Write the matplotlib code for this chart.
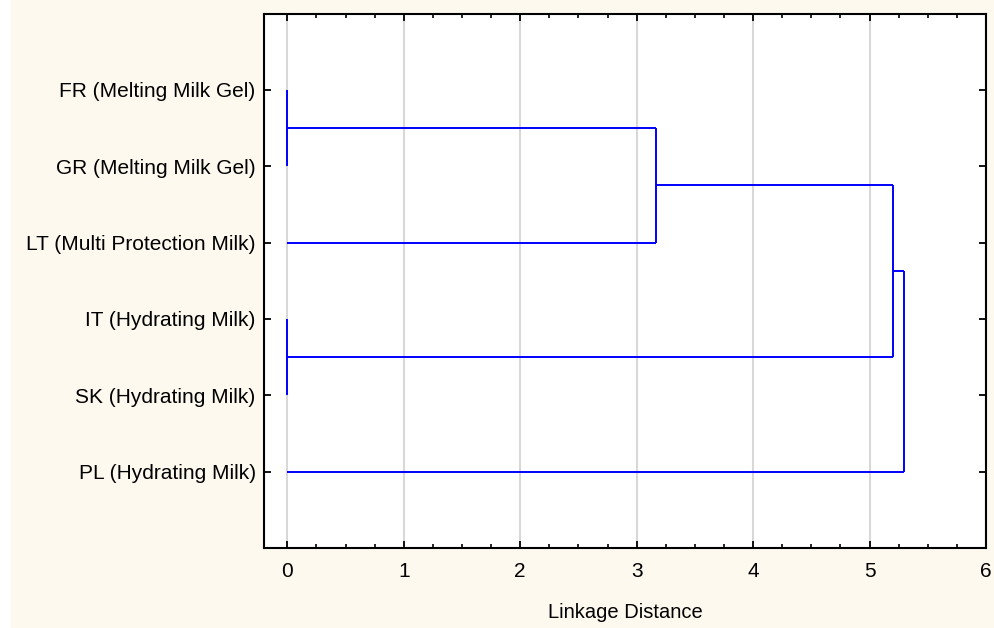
import matplotlib
matplotlib.use("Agg")
import matplotlib.pyplot as plt
from matplotlib.patches import Rectangle
from matplotlib.ticker import MultipleLocator

# Leaves listed top to bottom
labels = ["FR (Melting Milk Gel)", "GR (Melting Milk Gel)", "LT (Multi Protection Milk)",
          "IT (Hydrating Milk)", "SK (Hydrating Milk)", "PL (Hydrating Milk)"]
# merges: (left node, right node, linkage distance); nodes 0..5 leaves, 6.. clusters
merge_a = [0, 3, 6, 8, 9]
merge_b = [1, 4, 2, 7, 5]
merge_dist = [0.0, 0.0, 3.17, 5.2, 5.3]
xticks = [0, 1, 2, 3, 4, 5, 6]

W, H = 995, 628
fig = plt.figure(figsize=(W / 100, H / 100), dpi=100)
fig.patch.set_facecolor("white")
fig.add_artist(Rectangle((11 / W, 0), 1 - 11 / W, 1, transform=fig.transFigure,
                         facecolor="#fef9ee", edgecolor="none", zorder=-10))

ax = fig.add_axes([264 / W, 1 - 548 / H, (986 - 264) / W, (548 - 13.5) / H])
ax.set_facecolor("white")

n = len(labels)
ypos = {i: n - i for i in range(n)}
xpos = {i: 0.0 for i in range(n)}
col = (0, 0, 1)
lw = 1.4
for k, (a, b, d) in enumerate(zip(merge_a, merge_b, merge_dist)):
    node = n + k
    for c in (a, b):
        ax.plot([xpos[c], d], [ypos[c], ypos[c]], color=col, lw=lw, solid_capstyle="butt", zorder=3)
    ax.plot([d, d], [ypos[a], ypos[b]], color=col, lw=lw, solid_capstyle="butt", zorder=3)
    ypos[node] = (ypos[a] + ypos[b]) / 2
    xpos[node] = d

ax.set_xlim(-0.2, 6)
ax.set_ylim(0, n + 1)
ax.set_xticks(xticks)
ax.set_xticklabels([str(v) for v in xticks])
ax.xaxis.set_minor_locator(MultipleLocator(0.25))
ax.set_yticks([n - i for i in range(n)])
ax.set_yticklabels(labels)

ax.grid(axis="x", which="major", color="#d8d8d8", lw=1.5, zorder=0)
ax.set_axisbelow(True)

for s in ax.spines.values():
    s.set_linewidth(1.5)
    s.set_color("black")

ax.tick_params(axis="both", which="major", direction="in", length=5, width=1.3,
               top=True, right=True)
ax.tick_params(axis="x", which="major", labelsize=15, pad=10)
ax.tick_params(axis="y", which="major", labelsize=15, pad=6)
ax.tick_params(axis="x", which="minor", direction="in", length=3, width=1.2, top=True)
ax.tick_params(axis="y", which="minor", left=False, right=False)
for t in ax.get_xticklabels() + ax.get_yticklabels():
    t.set_fontfamily("Liberation Sans")

ax.set_xlabel("Linkage Distance", fontsize=14.5, family="Liberation Sans", labelpad=16)

fig.savefig("out.png", dpi=100, facecolor=fig.get_facecolor())
